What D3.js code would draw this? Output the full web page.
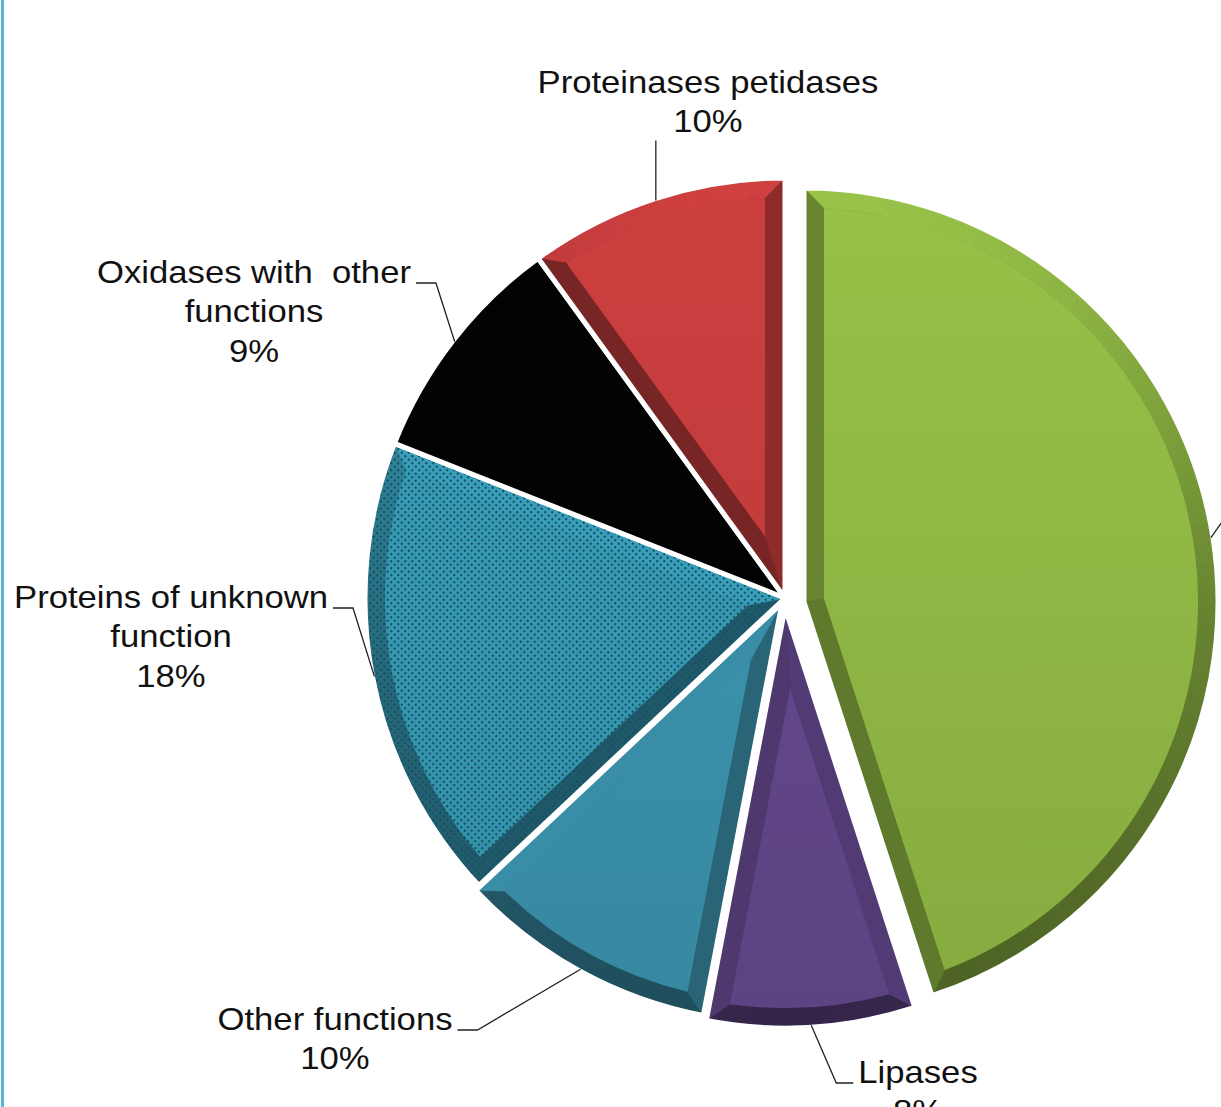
<!DOCTYPE html>
<html>
<head>
<meta charset="utf-8">
<script src="https://cdn.jsdelivr.net/npm/d3@7"></script>
<style>
  html, body { margin: 0; padding: 0; background: #ffffff; }
  svg { display: block; }
  text { font-family: "Liberation Sans", Arial, sans-serif; fill: #111; }
</style>
</head>
<body>
<svg id="chart" width="1221" height="1107"></svg>
<script>
// ---- data -------------------------------------------------------------
const categories = ["Other enzymes", "Lipases", "Other functions",
  "Proteins of unknown function", "Oxidases with other functions", "Proteinases petidases"];
const shares = [45, 8, 10, 18, 9, 10];
// how each category name is broken into lines on its label (first slice has no visible label)
const labelLines = [[], ["Lipases"], ["Other functions"], ["Proteins of unknown", "function"],
  ["Oxidases with\u00a0 other", "functions"], ["Proteinases petidases"]];
const sliceColors = ["#8db443", "#614689", "#3a8fa9", "#3596b0", "#030303", "#c03b3b"];

// ---- layout / style ---------------------------------------------------
const W = 1221, H = 1107;
const center = [785, 598];
const R = 420;
const bevel = 20;
const fontSize = 31.5, stretch = 1.1, lineGap = 39.5;
// per-slice explosion: shift of the slice apex and radius override
const explode = [
  { dx: 19, dy: 4, r: 414 },
  { dx: 0, dy: 10, r: R },
  { dx: -3, dy: 5, r: R },
  { dx: 0, dy: 0, r: R },
  { dx: 0, dy: 0, r: R },
  { dx: 0, dy: 0, r: R }
];
// label anchors: text centre x and first baseline y, and where the leader attaches
const labelPos = [
  null,
  { x: 918, y: 1083, side: "right" },
  { x: 335, y: 1030, side: "left" },
  { x: 171, y: 608, side: "left" },
  { x: 254, y: 283, side: "left" },
  { x: 708, y: 93, side: "top" }
];

const svg = d3.select("#chart");
const defs = svg.append("defs");

// dotted fill used on the "unknown function" slice
const pat = defs.append("pattern").attr("id", "dots")
  .attr("patternUnits", "userSpaceOnUse").attr("width", 7).attr("height", 7);
pat.append("circle").attr("cx", 1.75).attr("cy", 1.75).attr("r", 1.15).attr("fill", "#174f61");
pat.append("circle").attr("cx", 5.25).attr("cy", 5.25).attr("r", 1.15).attr("fill", "#174f61");

// left frame line
svg.append("rect").attr("x", 1).attr("y", 0).attr("width", 3).attr("height", H).attr("fill", "#5bb4d4");

const pie = d3.pie().sort(null).startAngle(0).endAngle(2 * Math.PI)(shares);

const pt = (c, a, r) => [c[0] + Math.sin(a) * r, c[1] - Math.cos(a) * r];
const shade = (hex, f) => {
  const c = d3.rgb(hex);
  return d3.rgb(Math.min(255, c.r * f), Math.min(255, c.g * f), Math.min(255, c.b * f)).formatHex();
};
// brightness of a bevel facet whose outward normal points at angle a (light from above)
const facet = a => {
  const t = Math.cos(a);
  return t >= 0 ? 0.74 + 0.34 * t : 0.74 + 0.2 * t;
};

const gSlices = svg.append("g");

pie.forEach((d, i) => {
  const ex = explode[i];
  const c = [center[0] + ex.dx, center[1] + ex.dy];
  const r = ex.r;
  const a0 = d.startAngle, a1 = d.endAngle;
  const h = (a1 - a0) / 2, mid = a0 + h;
  const ri = r - bevel;
  const del = Math.asin(bevel / ri);
  const V = pt(c, mid, bevel / Math.sin(h));
  const P0 = pt(c, a0, r), P1 = pt(c, a1, r);
  const Q0 = pt(c, a0 + del, ri), Q1 = pt(c, a1 - del, ri);
  const base = sliceColors[i];
  const g = gSlices.append("g");

  // face gradient
  const gid = "face" + i;
  const lg = defs.append("linearGradient").attr("id", gid)
    .attr("gradientUnits", "userSpaceOnUse")
    .attr("x1", 0).attr("y1", c[1] - r).attr("x2", 0).attr("y2", c[1] + r);
  lg.append("stop").attr("offset", 0).attr("stop-color", shade(base, 1.07));
  lg.append("stop").attr("offset", 1).attr("stop-color", shade(base, 0.95));

  // whole slice in base colour (underlay)
  const arcGen = d3.arc().innerRadius(0).outerRadius(r).startAngle(a0).endAngle(a1);
  g.append("path").attr("transform", `translate(${c})`).attr("d", arcGen()).attr("fill", shade(base, 0.7));

  // outer bevel, cut into thin facets so the shading follows the curve
  const steps = Math.max(6, Math.ceil((a1 - a0) / (Math.PI / 180 * 1.5)));
  const ia0 = a0 + del, ia1 = a1 - del;
  for (let k = 0; k < steps; k++) {
    const s0 = a0 + (a1 - a0) * k / steps, s1 = a0 + (a1 - a0) * (k + 1) / steps;
    const t0 = ia0 + (ia1 - ia0) * k / steps, t1 = ia0 + (ia1 - ia0) * (k + 1) / steps;
    const p = d3.path();
    const o0 = pt(c, s0, r), i1 = pt(c, t1, ri);
    p.moveTo(o0[0], o0[1]);
    p.arc(c[0], c[1], r, s0 - Math.PI / 2, s1 - Math.PI / 2, false);
    p.lineTo(i1[0], i1[1]);
    p.arc(c[0], c[1], ri, t1 - Math.PI / 2, t0 - Math.PI / 2, true);
    p.closePath();
    const col = shade(base, facet((s0 + s1) / 2));
    g.append("path").attr("d", p.toString()).attr("fill", col).attr("stroke", col).attr("stroke-width", 0.6);
  }
  // radial bevels
  const side = (P, Q, nA) => {
    const col = shade(base, facet(nA));
    g.append("path")
      .attr("d", `M${c}L${P}L${Q}L${V}Z`)
      .attr("fill", col).attr("stroke", col).attr("stroke-width", 0.6);
  };
  side(P0, Q0, a0 - Math.PI / 2);
  side(P1, Q1, a1 + Math.PI / 2);

  // flat face
  const f = d3.path();
  f.moveTo(V[0], V[1]);
  f.lineTo(Q0[0], Q0[1]);
  f.arc(c[0], c[1], ri, ia0 - Math.PI / 2, ia1 - Math.PI / 2, false);
  f.closePath();
  g.append("path").attr("d", f.toString()).attr("fill", `url(#${gid})`);

  if (i === 3) {
    g.append("path").attr("transform", `translate(${c})`).attr("d", arcGen()).attr("fill", "url(#dots)");
  }
  // white separation
  g.append("path").attr("transform", `translate(${c})`).attr("d", arcGen())
    .attr("fill", "none").attr("stroke", "#fff").attr("stroke-width", 5).attr("stroke-linejoin", "miter");

  d.c = c; d.r = r; d.mid = mid;
});

// ---- labels and leader lines -----------------------------------------
const gLab = svg.append("g");
const leader = d3.line();
pie.forEach((d, i) => {
  const edge = pt(d.c, d.mid, d.r - 2);
  const L = labelPos[i];
  if (!L) {
    // label of this slice sits beyond the right edge; only its leader is in view
    gLab.append("path").attr("d", leader([edge, [edge[0] + 24, edge[1] - 34]]))
      .attr("fill", "none").attr("stroke", "#222").attr("stroke-width", 1.3);
    return;
  }
  const lines = labelLines[i].concat([shares[i] + "%"]);
  const tg = gLab.append("g").attr("transform", `translate(${L.x},${L.y}) scale(${stretch},1)`);
  let firstW = 0;
  lines.forEach((s, j) => {
    const t = tg.append("text").attr("x", 0).attr("y", j * lineGap)
      .attr("text-anchor", "middle").attr("font-size", fontSize).text(s);
    if (j === 0) firstW = t.node().getComputedTextLength() * stretch;
  });
  let pts;
  if (L.side === "left") {
    const x0 = L.x + firstW / 2 + 5;
    pts = [[x0, L.y], [x0 + 20, L.y], edge];
  } else if (L.side === "right") {
    const x0 = L.x - firstW / 2 - 5;
    pts = [[x0, L.y], [x0 - 17, L.y], edge];
  } else {
    const yb = L.y + (lines.length - 1) * lineGap + 8;
    pts = [[edge[0], yb], edge];
  }
  gLab.append("path").attr("d", leader(pts))
    .attr("fill", "none").attr("stroke", "#222").attr("stroke-width", 1.3);
});
</script>
</body>
</html>
